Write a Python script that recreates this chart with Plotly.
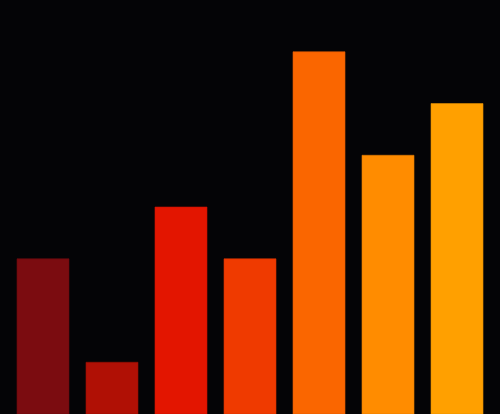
import plotly.graph_objects as go

# bar data
categories = ["A", "B", "C", "D", "E", "F", "G"]
values = [3, 1, 4, 3, 7, 5, 6]
colors = ["#7b0c10", "#b01005", "#e31500", "#ef3a00", "#fa6600", "#ff8c00", "#ffa000"]
edges = ["#6a0a0d", "#960d04", "#c81200", "#d43300", "#dd5a00", "#e07b00", "#e08d00"]

fig = go.Figure()
fig.add_trace(go.Bar(
    x=categories, y=values,
    marker=dict(color=colors, line=dict(color=edges, width=0.6)),
    hoverinfo="skip",
))

fig.update_layout(
    width=500, height=414,
    margin=dict(l=0, r=0, t=0, b=0),
    paper_bgcolor="#040406", plot_bgcolor="#040406",
    bargap=0.246,
    showlegend=False,
    xaxis=dict(visible=False, range=[-0.623, 6.623]),
    yaxis=dict(visible=False, range=[0, 8]),
)

# drop the browser's default page margin so the chart fills the window
fig.write_html(
    "out.html",
    config={"displayModeBar": False},
    post_script="document.body.style.margin='0';document.body.style.background='#040406';",
)
